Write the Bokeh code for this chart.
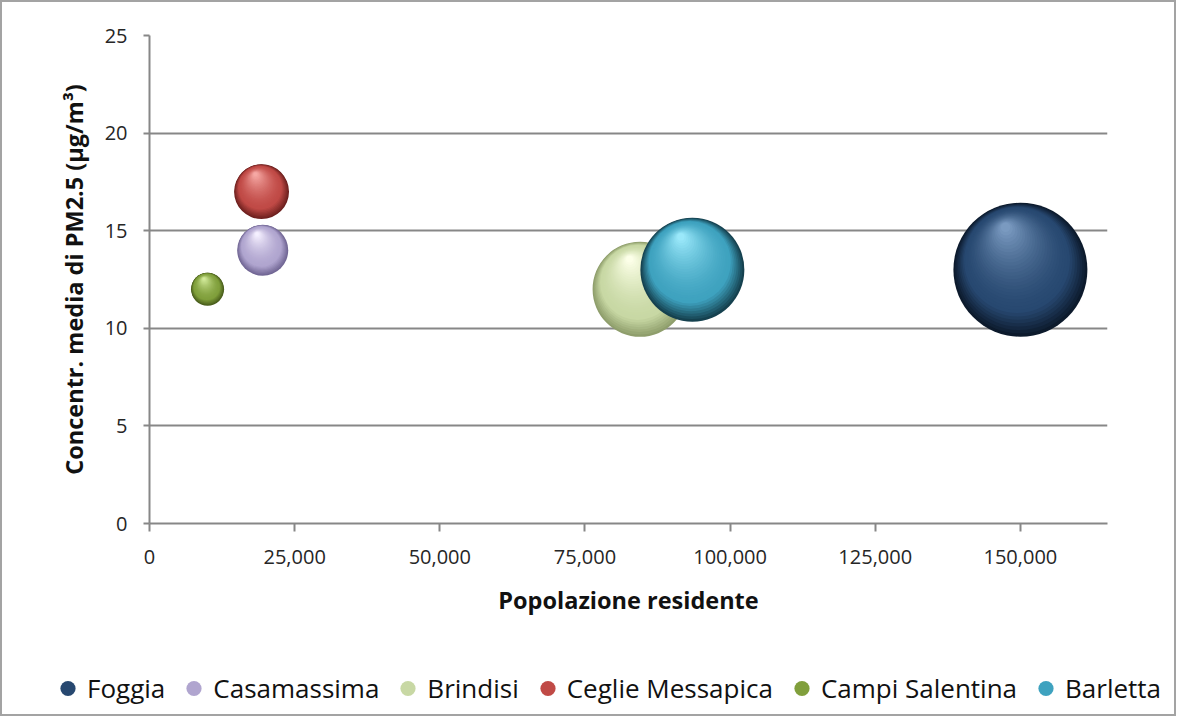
import numpy as np
from bokeh.plotting import figure
from bokeh.layouts import column
from bokeh.models import (Range1d, FixedTicker, NumeralTickFormatter, Legend,
                          LegendItem, ColumnDataSource)
from bokeh.embed import file_html
from bokeh.resources import INLINE

# ---- data ----
cities = ["Foggia", "Casamassima", "Brindisi", "Ceglie Messapica",
          "Campi Salentina", "Barletta"]
population = [150000, 19500, 84500, 19300, 10000, 93500]
pm25 = [13, 14, 12, 17, 12, 13]
bubble_size = [100.0, 14.5, 50.3, 16.8, 6.1, 60.2]   # relative bubble area

x_ticks = [0, 25000, 50000, 75000, 100000, 125000, 150000]
y_ticks = [0, 5, 10, 15, 20, 25]

# ---- styles ----
base_col = ["#274870", "#b0a5cf", "#c8d8a4", "#c04a46", "#809f3c", "#3ea2bf"]
rim_col = ["#0c1a2c", "#716694", "#8f9e6c", "#6e211f", "#485c1b", "#15414f"]
hi_col = ["#7a9ac0", "#f5f0ff", "#fcffe8", "#f6a8a4", "#d2ea9a", "#9ae8fa"]

W = 1172
H_MAIN, H_LEG = 650, 62
LEFT, RIGHT, TOP = 147, 67, 33
FRAME_H = 488
BOTTOM = H_MAIN - TOP - FRAME_H
XMAX, YMAX = 165000, 25
frame_w = W - LEFT - RIGHT
x_per_px = XMAX / frame_w
y_per_px = YMAX / FRAME_H
MAX_D = 134.0  # diameter in px of largest bubble

FONT = "Open Sans"

p = figure(width=W, height=H_MAIN, output_backend="svg", toolbar_location=None,
           x_range=Range1d(0, XMAX), y_range=Range1d(0, YMAX),
           min_border_left=LEFT, min_border_right=RIGHT,
           min_border_top=TOP, min_border_bottom=BOTTOM,
           background_fill_color="white", border_fill_color="white")
p.outline_line_color = None


def hex2rgb(h):
    h = h.lstrip("#")
    return np.array([int(h[i:i + 2], 16) for i in (0, 2, 4)], dtype=float)


def mix(a, b, t):
    c = hex2rgb(a) * (1 - t) + hex2rgb(b) * t
    return "#%02x%02x%02x" % tuple(int(round(v)) for v in c)


N_LAYERS = 32
direction = np.array([-0.33, 0.94])
direction = direction / np.linalg.norm(direction)

for i, city in enumerate(cities):
    D = MAX_D * np.sqrt(bubble_size[i] / max(bubble_size))
    xs, ys, sizes, cols = [], [], [], []
    for k in range(N_LAYERS):
        t = k / (N_LAYERS - 1)
        d = D * (1 - 0.93 * t)
        off = (D - d) / 2 * 0.72
        xs.append(population[i] + off * direction[0] * x_per_px)
        ys.append(pm25[i] + off * direction[1] * y_per_px)
        sizes.append(d)
        if t < 0.22:
            cols.append(mix(rim_col[i], base_col[i], t / 0.22))
        else:
            cols.append(mix(base_col[i], hi_col[i], ((t - 0.22) / 0.78) ** 1.6))
    src = ColumnDataSource(dict(x=xs, y=ys, size=sizes, color=cols))
    p.scatter("x", "y", size="size", source=src, fill_color="color",
              line_color=None, marker="circle")

# ---- axes ----
p.xaxis.ticker = FixedTicker(ticks=x_ticks)
p.yaxis.ticker = FixedTicker(ticks=y_ticks)
p.xaxis.formatter = NumeralTickFormatter(format="0,0")
p.xaxis.minor_tick_line_color = None
p.yaxis.minor_tick_line_color = None
for ax in (p.xaxis, p.yaxis):
    ax.axis_line_color = "#878787"
    ax.axis_line_width = 2
    ax.major_tick_line_color = "#878787"
    ax.major_tick_line_width = 2
    ax.major_tick_in = 0
    ax.major_label_text_font = FONT
    ax.major_label_text_font_size = "20px"
    ax.major_label_text_color = "#262626"
    ax.axis_label_text_font = FONT
    ax.axis_label_text_font_style = "bold"
    ax.axis_label_text_font_size = "23.5px"
    ax.axis_label_text_color = "#111111"
p.xaxis.major_tick_out = 8
p.yaxis.major_tick_out = 6
p.xaxis.major_label_standoff = 18
p.yaxis.major_label_standoff = 16
p.xaxis.axis_label = "Popolazione residente"
p.yaxis.axis_label = "Concentr. media di PM2.5 (µg/m³)"
p.xaxis.axis_label_standoff = 17
p.yaxis.axis_label_standoff = 12

p.xgrid.grid_line_color = None
p.ygrid.grid_line_color = "#878787"
p.ygrid.grid_line_width = 2

# ---- legend strip (own figure so it is not clipped) ----
lg = figure(width=W, height=H_LEG, output_backend="svg", toolbar_location=None,
            x_range=Range1d(0, 1), y_range=Range1d(0, 1),
            min_border=0, border_fill_color="white",
            background_fill_color="white")
for fig in (p, lg):
    try:
        fig.frame_align = False
    except Exception:
        pass
lg.axis.visible = False
lg.grid.visible = False
lg.outline_line_color = None
items = []
for i, city in enumerate(cities):
    r = lg.scatter([-10], [-10], size=10, fill_color=base_col[i],
                   line_color=None, marker="circle")
    items.append(LegendItem(label=city, renderers=[r]))
legend = Legend(items=items, orientation="horizontal",
                location=(46, 7), label_text_font=FONT,
                label_text_font_size="26px", label_text_color="#111111",
                glyph_width=39, glyph_height=38, label_standoff=0,
                spacing=9, border_line_color=None,
                background_fill_alpha=0, padding=0, margin=0)
lg.add_layout(legend, "center")

layout = column(p, lg, spacing=0)
layout.styles = {"border": "2px solid #a3a3a3"}

open("out.html", "w").write(file_html(layout, INLINE))
